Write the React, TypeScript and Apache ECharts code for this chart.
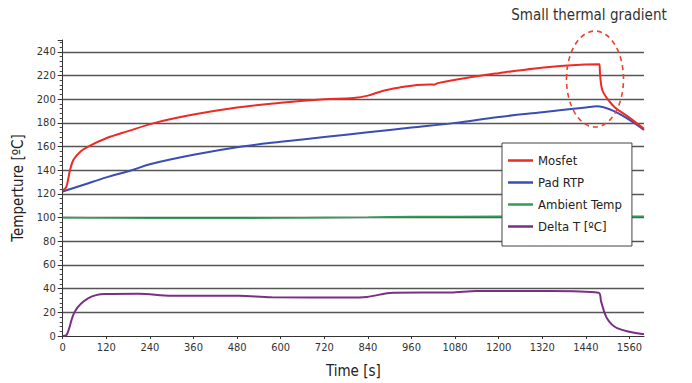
import React, { useEffect, useRef } from "react";
import * as echarts from "echarts";

const mosfetTime = [0, 10, 20, 30, 50, 70, 120, 180, 254, 360, 480, 600, 720, 800, 840, 880, 930, 975, 1010, 1022, 1035, 1110, 1200, 1300, 1390, 1477, 1479, 1485, 1500, 1520, 1555, 1600];
const mosfetTemp = [123, 126, 140, 149, 156, 160, 167, 173, 180, 187, 193, 197, 200, 201, 203, 207, 210, 212, 212.5, 212.3, 213.8, 218, 222, 226, 228.5, 229.5, 221, 208, 200, 193, 185.5, 175];

const padTime = [0, 60, 120, 190, 240, 360, 493, 600, 720, 840, 960, 1080, 1200, 1320, 1440, 1470, 1600];
const padTemp = [122, 128, 134, 140, 145, 153, 160, 164, 168, 172, 176, 180, 185, 189, 193, 194, 174];

const ambientTime = [0, 240, 480, 720, 840, 960, 1200, 1440, 1600];
const ambientTemp = [100, 99.5, 99.5, 100, 100.3, 100.8, 101, 101, 101];

const deltaTime = [0, 11, 34, 71, 116, 208, 300, 484, 575, 787, 837, 910, 1067, 1140, 1342, 1475, 1482, 1498, 1526, 1600];
const deltaTemp = [0, 1, 21, 32, 35.5, 35.7, 34, 34, 32.7, 32.5, 33, 36.6, 36.8, 38, 38, 36.6, 29, 15, 6.7, 1.5];

const gridValues = [20, 40, 60, 80, 100, 120, 140, 160, 180, 200, 220, 240];

const zip = (a: number[], b: number[]) => a.map((t, i) => [t, b[i]]);

const FONT = "'DejaVu Sans Condensed', 'Liberation Sans Narrow', sans-serif";

export default function App() {
  const ref = useRef<HTMLDivElement>(null);
  useEffect(() => {
    if (!ref.current) return;
    const chart = echarts.init(ref.current, undefined, { renderer: "svg" });
    const lineBase = {
      type: "line" as const,
      showSymbol: false,
      symbol: "none",
      smooth: 0.35,
    };
    chart.setOption({
      animation: false,
      backgroundColor: "#ffffff",
      grid: { left: 62.7, right: 48, top: 40, bottom: 45 },
      xAxis: {
        type: "value",
        min: 0,
        max: 1600,
        interval: 120,
        name: "Time [s]",
        nameLocation: "middle",
        nameGap: 27,
        nameTextStyle: { fontFamily: FONT, fontSize: 15, color: "#222" },
        axisLine: { lineStyle: { color: "#333", width: 1 } },
        axisTick: { show: true, length: 3, lineStyle: { color: "#333" } },
        axisLabel: {
          showMaxLabel: false,
          fontFamily: FONT,
          fontSize: 11,
          color: "#333",
          margin: 6,
          formatter: (v: number) => String(v),
        },
        splitLine: { show: false },
      },
      yAxis: {
        type: "value",
        min: 0,
        max: 250,
        interval: 20,
        name: "Temperture [ºC]",
        nameLocation: "middle",
        nameGap: 37,
        nameTextStyle: { fontFamily: FONT, fontSize: 15, color: "#222" },
        axisLine: { show: true, lineStyle: { color: "#333", width: 1 } },
        axisTick: { show: true, length: 5, lineStyle: { color: "#333" } },
        minorTick: { show: true, splitNumber: 5, length: 3, lineStyle: { color: "#444" } },
        axisLabel: {
          showMaxLabel: false,
          fontFamily: FONT,
          fontSize: 11,
          color: "#333",
          margin: 7,
          formatter: (v: number) => String(v),
        },
        splitLine: { show: false },
      },
      legend: {
        orient: "vertical",
        left: 502,
        top: 143,
        backgroundColor: "#ffffff",
        borderColor: "#444",
        borderWidth: 1,
        borderRadius: 0,
        padding: [11, 10, 13, 6],
        itemGap: 9,
        itemWidth: 25,
        itemHeight: 2.5,
        icon: "rect",
        textStyle: { fontFamily: FONT, fontSize: 13, color: "#222" },
        data: ["Mosfet", "Pad RTP", "Ambient Temp", "Delta T [ºC]"],
      },
      series: [
        {
          ...lineBase,
          name: "Ambient Temp",
          z: 2,
          color: "#2E9E5A",
          lineStyle: { width: 1.6, color: "#2E9E5A" },
          data: zip(ambientTime, ambientTemp),
          markLine: {
            silent: true,
            symbol: "none",
            label: { show: false },
            lineStyle: { color: "#555", width: 1.3, type: "solid" },
            data: gridValues.map((v) => ({ yAxis: v })),
            z: 1,
          },
        },
        {
          ...lineBase,
          name: "Mosfet",
          z: 4,
          color: "#EE2A24",
          lineStyle: { width: 2, color: "#EE2A24" },
          data: zip(mosfetTime, mosfetTemp),
        },
        {
          ...lineBase,
          name: "Pad RTP",
          z: 3,
          color: "#3A4DB5",
          lineStyle: { width: 2, color: "#3A4DB5" },
          data: zip(padTime, padTemp),
        },
        {
          ...lineBase,
          name: "Delta T [ºC]",
          z: 3,
          color: "#7A2E86",
          lineStyle: { width: 2, color: "#7A2E86" },
          data: zip(deltaTime, deltaTemp),
        },
      ],
      graphic: [
        {
          type: "ellipse",
          shape: { cx: 595, cy: 79, rx: 28.5, ry: 48 },
          style: { fill: "none", stroke: "#E8452C", lineWidth: 1.6, lineDash: [5, 4] },
          z: 100,
        },
        {
          type: "text",
          x: 589,
          y: 15,
          style: {
            text: "Small thermal gradient",
            fontFamily: FONT,
            fontSize: 15,
            fill: "#333",
            align: "center",
            verticalAlign: "middle",
          },
        },
      ],
    });
    return () => chart.dispose();
  }, []);
  return (
    <div
      ref={ref}
      style={{ position: "fixed", left: 0, top: 0, width: 692, height: 383 }}
    />
  );
}
